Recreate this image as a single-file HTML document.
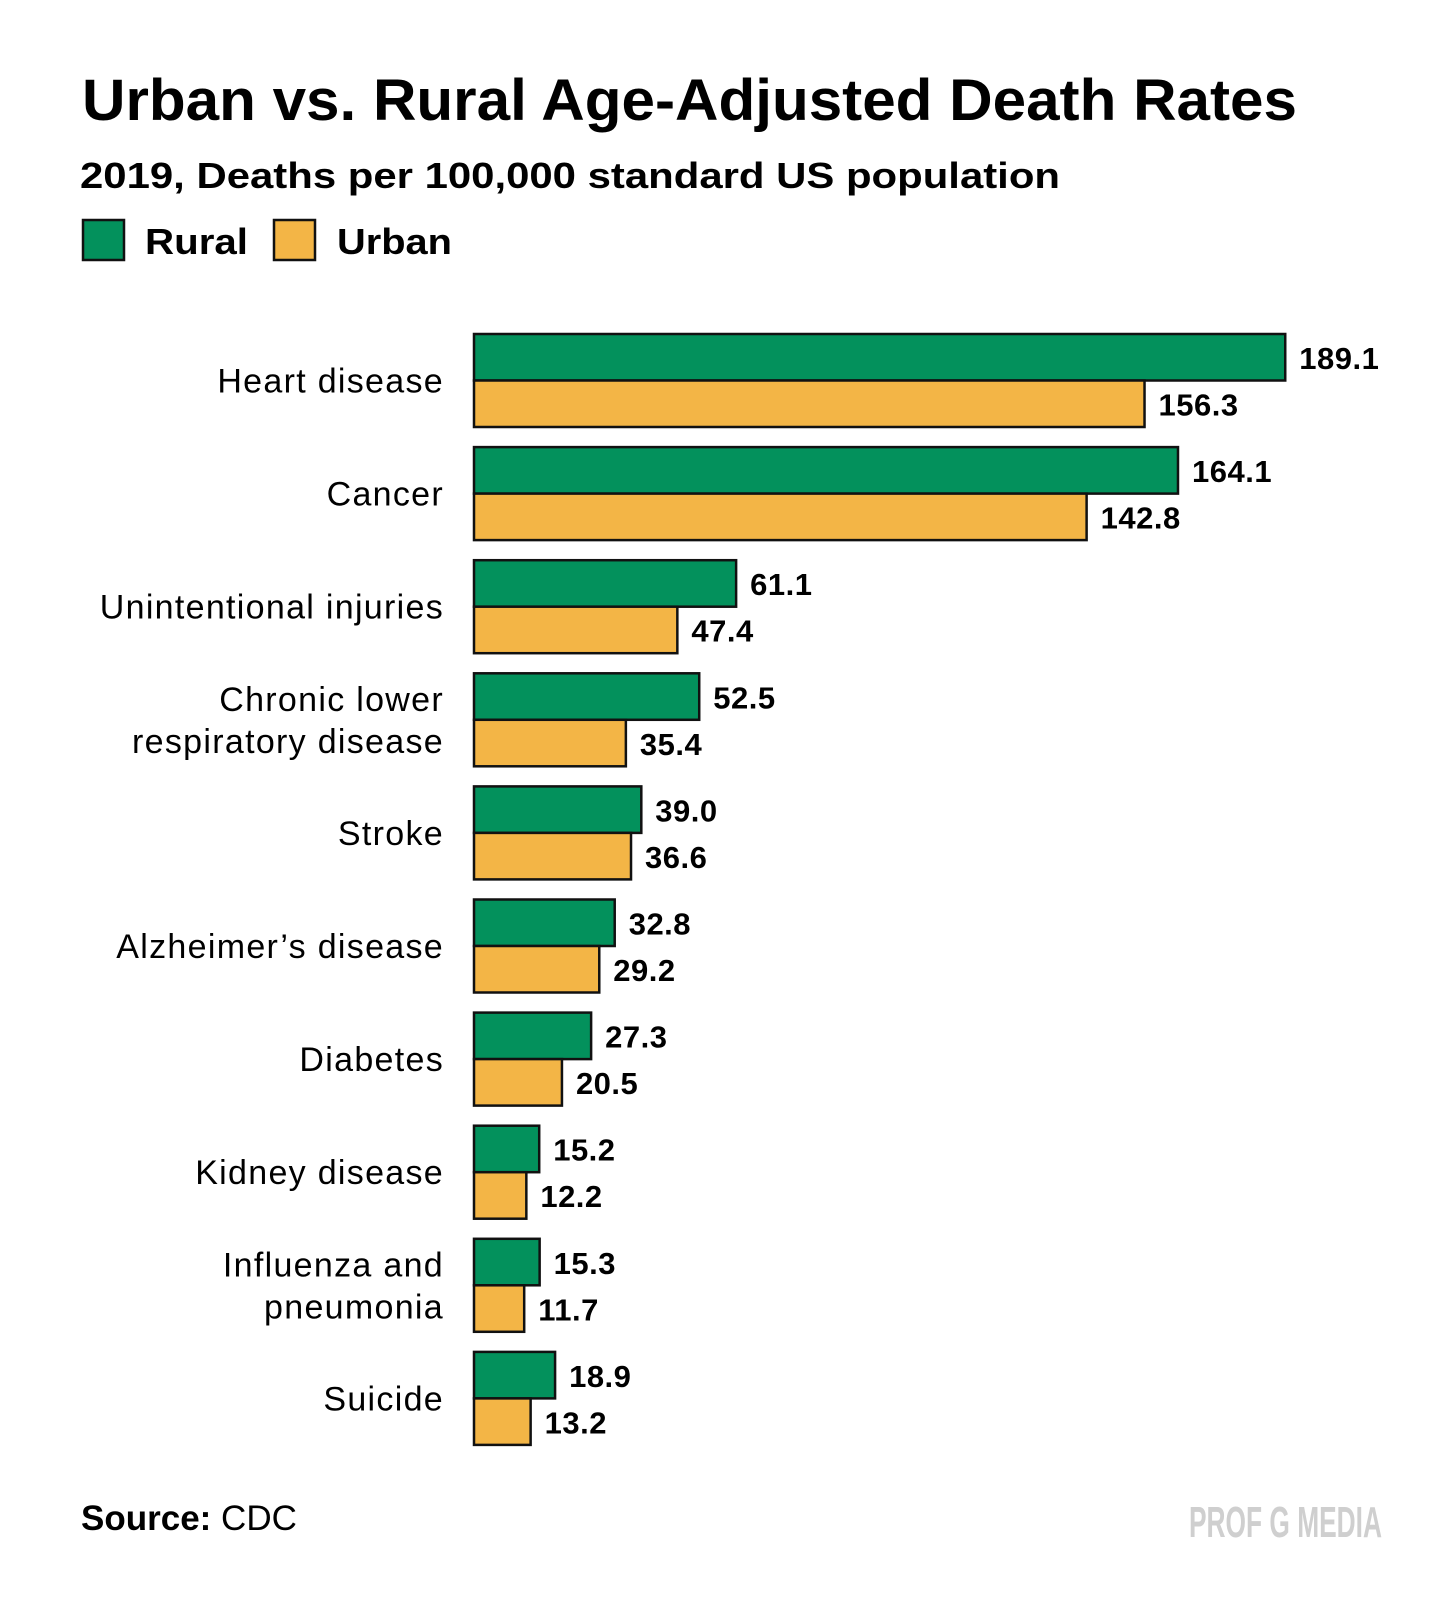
<!DOCTYPE html>
<html><head><meta charset="utf-8"><style>
html,body{margin:0;padding:0;background:#fff}
svg{display:block}
text{font-family:"Liberation Sans",sans-serif}
</style></head><body>
<svg id="chart" width="1456" height="1605" viewBox="0 0 1456 1605">
<text x="82" y="120" font-size="58" font-weight="bold" textLength="1215" lengthAdjust="spacingAndGlyphs">Urban vs. Rural Age-Adjusted Death Rates</text>
<text x="80" y="188" font-size="36" font-weight="bold" textLength="980" lengthAdjust="spacingAndGlyphs">2019, Deaths per 100,000 standard US population</text>
<g>
<rect x="83" y="220" width="41" height="40" fill="#03915c" stroke="#111" stroke-width="2.5"/>
<text x="145" y="254" font-size="36" font-weight="bold" textLength="103" lengthAdjust="spacingAndGlyphs">Rural</text>
<rect x="274" y="220" width="41" height="40" fill="#f3b546" stroke="#111" stroke-width="2.5"/>
<text x="337" y="254" font-size="36" font-weight="bold" textLength="115" lengthAdjust="spacingAndGlyphs">Urban</text>
</g>
<g id="bars"></g>
<text x="81" y="1530" font-size="35" font-weight="bold">Source:<tspan font-weight="normal"> CDC</tspan></text>
<text x="1189" y="1537" font-size="44" font-weight="bold" fill="#cfcfcf" textLength="193" lengthAdjust="spacingAndGlyphs">PROF G MEDIA</text>
</svg>
<script>
const categories = [["Heart disease"],["Cancer"],["Unintentional injuries"],["Chronic lower","respiratory disease"],["Stroke"],["Alzheimer’s disease"],["Diabetes"],["Kidney disease"],["Influenza and","pneumonia"],["Suicide"]];
const rural = [189.1,164.1,61.1,52.5,39.0,32.8,27.3,15.2,15.3,18.9];
const urban = [156.3,142.8,47.4,35.4,36.6,29.2,20.5,12.2,11.7,13.2];
const labelsRural = ["189.1","164.1","61.1","52.5","39.0","32.8","27.3","15.2","15.3","18.9"];
const labelsUrban = ["156.3","142.8","47.4","35.4","36.6","29.2","20.5","12.2","11.7","13.2"];

const NS = "http://www.w3.org/2000/svg";
const g = document.getElementById('bars');
const x0 = 474, pxPerUnit = 4.29;
const xScale = v => x0 + v * pxPerUnit;
const top0 = 334, step = 113.1, barH = 46.5;
const yBand = i => top0 + i * step;
function mk(tag, attrs){const e=document.createElementNS(NS,tag);for(const k in attrs)e.setAttribute(k,attrs[k]);g.appendChild(e);return e;}
categories.forEach((lines,i)=>{
  const y = yBand(i);
  const r = mk('rect',{x:x0,y:y,width:xScale(rural[i])-x0,height:barH,fill:'#03915c',stroke:'#111','stroke-width':2.5});
  
  
  const u = mk('rect',{x:x0,y:y+barH,width:xScale(urban[i])-x0,height:barH,fill:'#f3b546',stroke:'#111','stroke-width':2.5});
  
  
  const tr = mk('text',{x:xScale(rural[i])+14,y:y+35,'font-size':31,'font-weight':'bold','letter-spacing':0.5});
  tr.textContent = labelsRural[i];
  
  
  const tu = mk('text',{x:xScale(urban[i])+14,y:y+barH+35,'font-size':31,'font-weight':'bold','letter-spacing':0.5});
  tu.textContent = labelsUrban[i];
  
  
  const cy = y + barH;
  lines.forEach((ln,j)=>{
    const off = lines.length===1 ? 12 : (j===0 ? -9 : 33);
    const t = mk('text',{x:444,y:cy+off,'font-size':34,'text-anchor':'end','letter-spacing':1.3});
    t.textContent = ln;
    
    
  });
});
</script>
</body></html>
